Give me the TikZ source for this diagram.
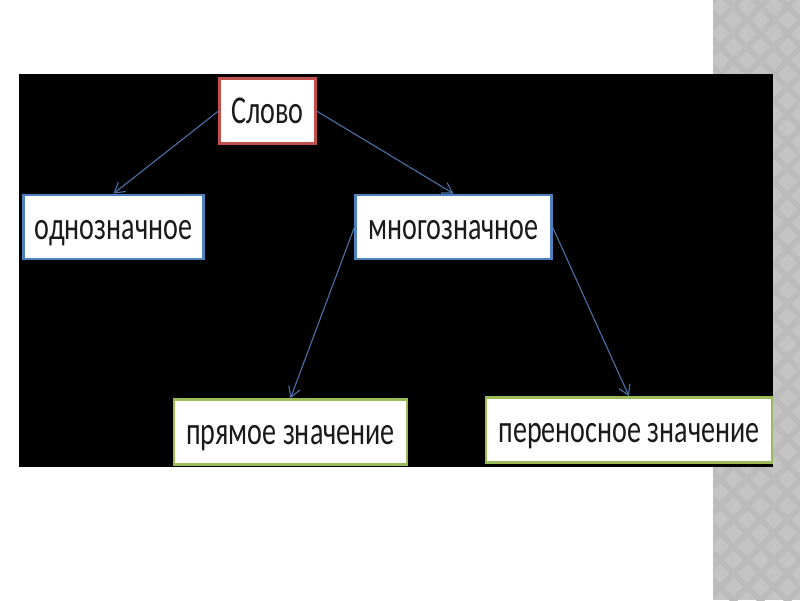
\documentclass[tikz,border=0pt]{standalone}
\usepackage{fontspec}
\setmainfont{Carlito}
\usetikzlibrary{arrows.meta,positioning,calc}
\definecolor{Panel}{HTML}{000000}
\definecolor{Band}{HTML}{C4C4C4}
\definecolor{BandMark}{HTML}{BBBBBB}
\definecolor{RootRed}{HTML}{C0504D}
\definecolor{MidBlue}{HTML}{4F81BD}
\definecolor{LeafGreen}{HTML}{9BBB59}
\definecolor{Wire}{HTML}{4A6FA5}
\definecolor{Ink}{HTML}{1A1A1A}
\newcommand{\tallword}[1]{\raisebox{-9pt}[0pt][0pt]{\scalebox{1}[1.4]{#1}}}
\tikzset{rootbox/.style={rectangle,draw=RootRed,line width=2pt,fill=white,align=center,text=Ink,minimum height=1.62cm},midbox/.style={rectangle,draw=MidBlue,line width=2pt,fill=white,align=center,text=Ink,minimum height=1.6cm},leafbox/.style={rectangle,draw=LeafGreen,line width=2pt,fill=white,align=center,text=Ink,minimum height=1.62cm},link/.style={draw=Wire,line width=0.8pt,-{Straight Barb[length=2.5mm,width=3mm]}}}

\begin{document}
\begin{tikzpicture}[x=0.025cm,y=-0.025cm,font=\fontsize{20}{24}\selectfont]
\useasboundingbox (0,0) rectangle (800,600);
\fill[white] (0,0) rectangle (800,600);
\fill[Band] (713,0) rectangle (800,600);
\begin{scope}
\clip (713,0) rectangle (800,600);
\foreach \k in {-4,...,25}{\draw[BandMark,line width=4pt] (700,\k*27) -- ++(120,120);\draw[BandMark,line width=4pt] (700,\k*27+40) -- ++(120,-120);}
\end{scope}
\fill[Panel] (19,74) rectangle (773,467);
\node[rootbox,minimum width=2.38cm] (slovo) at (267.5,111) {\tallword{Слово}};
\node[midbox,minimum width=4.48cm] (odno) at (113.5,227) {\tallword{однозначное}};
\node[midbox,minimum width=4.88cm] (mnogo) at (453.5,227) {\tallword{многозначное}};
\node[leafbox,minimum width=5.82cm] (pryam) at (290.5,432) {\tallword{прямое значение}};
\node[leafbox,minimum width=7.15cm] (perenos) at (629,430) {\tallword{переносное значение}};
\draw[link] (slovo.west) -- (odno.north);\draw[link] (slovo.east) -- (mnogo.north);
\draw[link] (mnogo.west) -- (pryam.north);\draw[link] (mnogo.east) -- (perenos.north);
\end{tikzpicture}
\end{document}
